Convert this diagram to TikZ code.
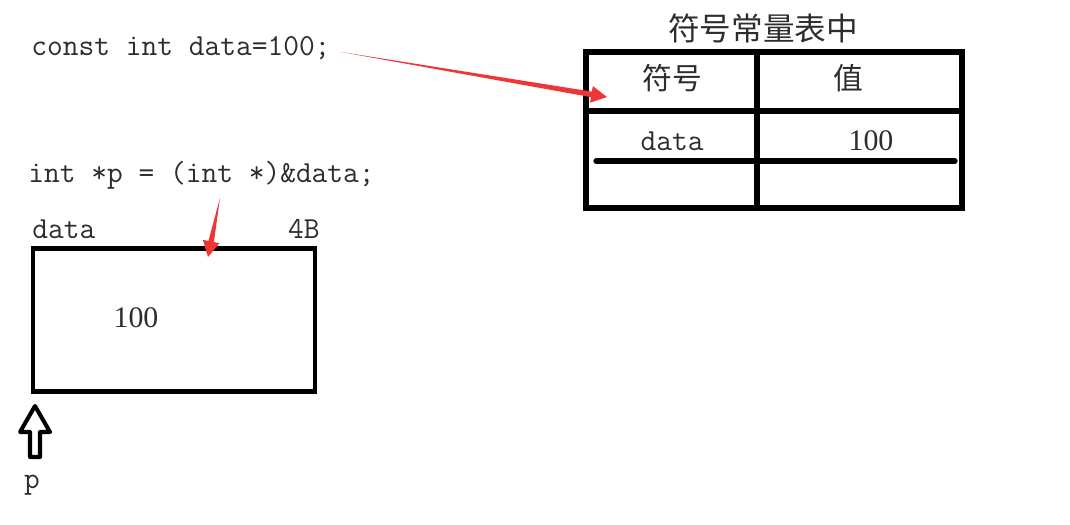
\documentclass[tikz,border=0pt]{standalone}
\usepackage{fontspec}
\setmainfont{Liberation Serif}
\newfontfamily\cjk{Noto Sans CJK SC}
\usetikzlibrary{calc}

\definecolor{arrowred}{RGB}{238,54,54}
\definecolor{ink}{RGB}{45,45,45}

% tapered red pointer from #1 to #2
\newcommand{\taper}[2]{%
  \coordinate (h) at ($(#2)!9pt!(#1)$);
  \fill [arrowred] (#1) -- ($(h)!1.6pt!90:(#1)$) -- ($(h)!4.8pt!90:(#1)$) -- (#2)
    -- ($(h)!4.8pt!-90:(#1)$) -- ($(h)!1.6pt!-90:(#1)$) -- cycle;}

\begin{document}
\begin{tikzpicture}[x=0.02cm, y=-0.02cm,
    code/.style={font=\ttfamily\fontsize{17.4}{19}\selectfont, text=ink, inner sep=0pt},
    num/.style={font=\fontsize{17}{19}\selectfont, text=ink, inner sep=0pt},
    cjktext/.style={font=\cjk\fontsize{17}{19}\selectfont, text=ink, inner sep=0pt},
    membox/.style={draw, line width=2.8pt, minimum width=5.64cm, minimum height=2.86cm, inner sep=0pt},
    grid/.style={line width=3pt},
    hollow/.style={draw, line width=2.3pt, line join=round}]
    \useasboundingbox (0,0) rectangle (1070,524);

    % Nodes {code lines, memory cell, table}
    \node [code, anchor=west] 	(decl) 	at (31,48) 	{const int data=100;};
    \node [code, anchor=west] 	(cast) 	at (28,175) 	{int *p = (int *)\&data;};
    \node [code, anchor=west] 	(name) 	at (32,229) 	{data};
    \node [code, anchor=east] 	(size) 	at (320,229) 	{4B};
    \node [membox] 			(mem) 	at (174,320) 	{};
    \node [num] 			(val) 	at (136,318) 	{100};
    \node [code] 			(p) 	at (32,485) 	{p};

    \node [cjktext, font=\cjk\fontsize{18}{20}\selectfont] (title) at (763,28) {符号常量表中};
    \node [cjktext] 		(hsym) 	at (672,78) 	{符号};
    \node [cjktext] 		(hval) 	at (848,78) 	{值};
    \node [code] 			(dsym) 	at (672,141) 	{data};
    \node [num] 			(dval) 	at (871,141) 	{100};

    % Table lines
    \draw [grid] (586,52) rectangle (962,208);
    \draw [grid] (757,52) -- (757,208);
    \draw [grid] (586,111) -- (962,111);
    \draw [grid, line cap=round] (596,161) -- (955,161);

    % Paths
    \coordinate (t1) at (341,52);
    \coordinate (h1) at (607,97);
    \coordinate (t2) at (220,198);
    \coordinate (h2) at (208,257);
    \taper{t1}{h1}
    \taper{t2}{h2}

    % pointer p
    \draw [hollow] (35,406) -- (50,432) -- (40,432) -- (40,457) -- (30,457) -- (30,432) -- (20,432) -- cycle;
\end{tikzpicture}
\end{document}
